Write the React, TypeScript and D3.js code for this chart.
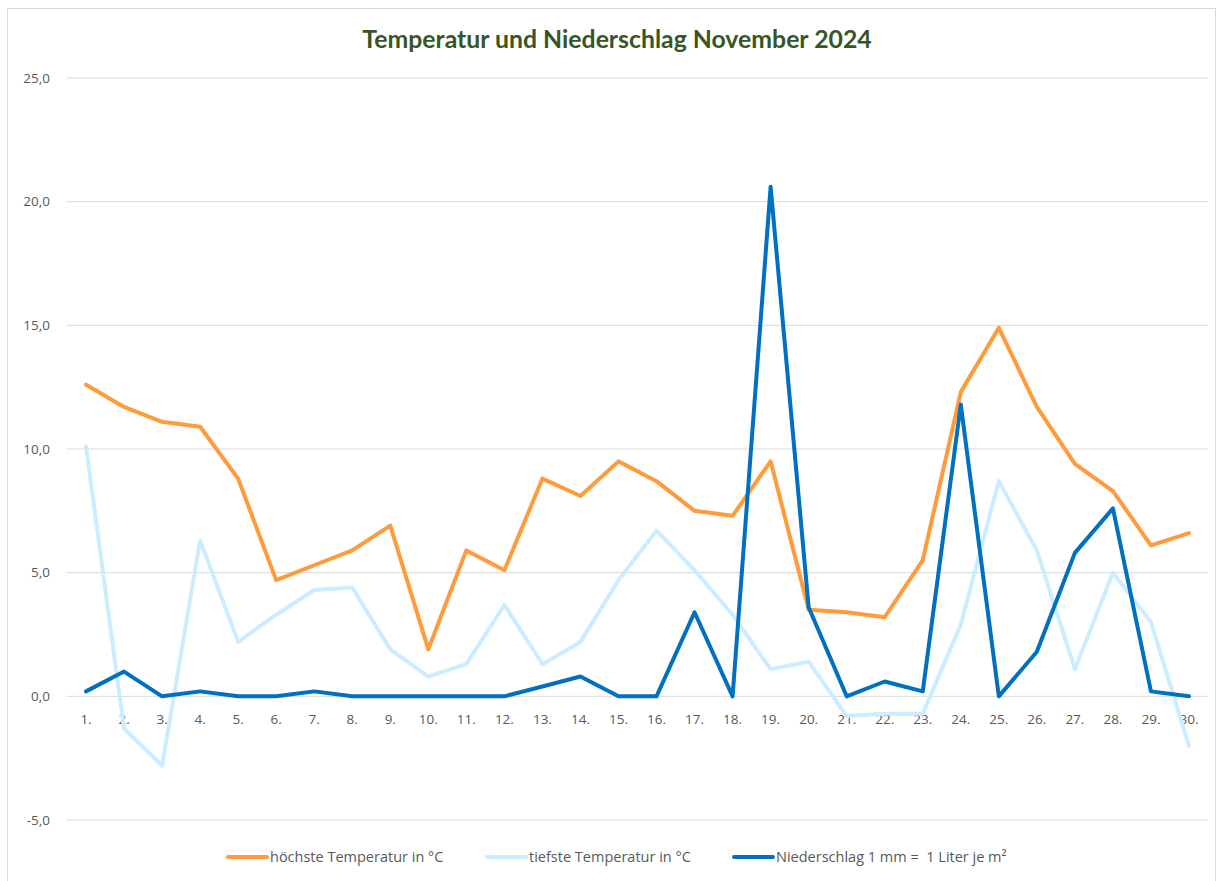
import React from "react";
import * as d3 from "d3";

const days = Array.from({ length: 30 }, (_, i) => `${i + 1}.`);
const highTemp = [12.6, 11.7, 11.1, 10.9, 8.8, 4.7, 5.3, 5.9, 6.9, 1.9, 5.9, 5.1, 8.8, 8.1, 9.5, 8.7, 7.5, 7.3, 9.5, 3.5, 3.4, 3.2, 5.5, 12.3, 14.9, 11.7, 9.4, 8.3, 6.1, 6.6];
const lowTemp = [10.1, -1.3, -2.8, 6.3, 2.2, 3.3, 4.3, 4.4, 1.9, 0.8, 1.3, 3.7, 1.3, 2.2, 4.7, 6.7, 5.1, 3.3, 1.1, 1.4, -0.8, -0.7, -0.7, 2.9, 8.7, 5.9, 1.1, 5.0, 3.0, -2.0];
const precip = [0.2, 1.0, 0, 0.2, 0, 0, 0.2, 0, 0, 0, 0, 0, 0.4, 0.8, 0, 0, 3.4, 0, 20.6, 3.6, 0, 0.6, 0.2, 11.8, 0, 1.8, 5.8, 7.6, 0.2, 0];
const yTicks = [-5, 0, 5, 10, 15, 20, 25];

const seriesNames = ["höchste Temperatur in °C", "tiefste Temperatur in °C", "Niederschlag 1 mm =  1 Liter je m²"];
const seriesColors = ["#FF9B3A", "#CCECFF", "#0070C0"];

const W = 1221;
const H = 881;
const TITLE_FONT = "Lato, 'Open Sans', sans-serif";
const FONT = "'Open Sans', Lato, sans-serif";

export default function App() {
  const x = d3.scaleBand<string>().domain(days).range([67, 1208]);
  const y = d3.scaleLinear().domain([-5, 25]).range([820, 78]);
  const cx = (d: string) => (x(d) as number) + x.bandwidth() / 2;
  const line = d3
    .line<number>()
    .x((_, i) => cx(days[i]))
    .y((v) => y(v));
  const series = [highTemp, lowTemp, precip];
  const legendX = [228, 487, 734];
  const fmt = (v: number) => v.toFixed(1).replace(".", ",");

  return (
    <svg width={W} height={H} style={{ position: "absolute", left: 0, top: 0, background: "#fff" }}>
      <rect x={7.5} y={8.5} width={1208} height={880} fill="#fff" stroke="#D9D9D9" strokeWidth={1} />
      <text x={617} y={48} textAnchor="middle" fontFamily={TITLE_FONT} fontWeight={700} fontSize={24.8} fill="#375623">
        Temperatur und Niederschlag November 2024
      </text>
      {yTicks.map((t) => (
        <g key={t}>
          <line x1={67} x2={1208} y1={y(t)} y2={y(t)} stroke="#D9D9D9" strokeWidth={1} />
          <text x={50} y={y(t)} dy="0.35em" textAnchor="end" fontFamily={FONT} fontSize={13.5} fill="#595959">
            {fmt(t)}
          </text>
        </g>
      ))}
      {days.map((d) => (
        <text key={d} x={cx(d)} y={719} dy="0.35em" textAnchor="middle" fontFamily={FONT} fontSize={13.5} fill="#595959">
          {d}
        </text>
      ))}
      {series.map((s, i) => (
        <path key={i} d={line(s) as string} fill="none" stroke={seriesColors[i]} strokeWidth={4} strokeLinejoin="round" strokeLinecap="round" />
      ))}
      {seriesNames.map((n, i) => (
        <g key={n}>
          <line x1={legendX[i]} x2={legendX[i] + 39} y1={857} y2={857} stroke={seriesColors[i]} strokeWidth={4} strokeLinecap="round" />
          <text x={legendX[i] + 42} y={857} dy="0.35em" fontFamily={FONT} fontSize={14.5} fill="#595959" style={{ whiteSpace: "pre" }}>
            {n}
          </text>
        </g>
      ))}
    </svg>
  );
}
